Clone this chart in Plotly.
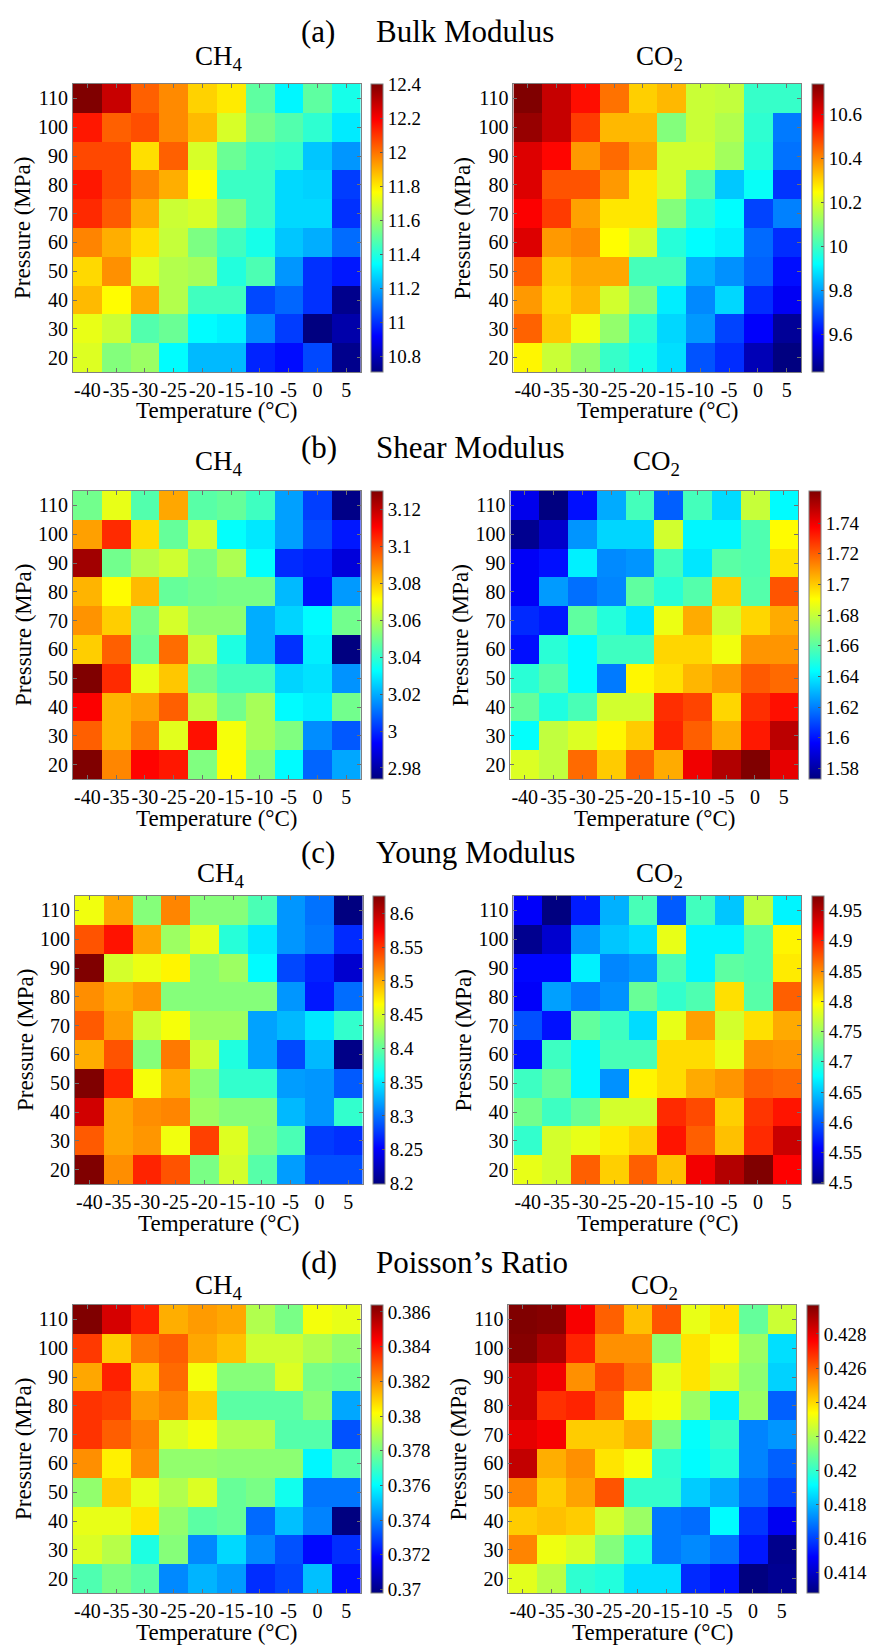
import plotly.graph_objects as go
import numpy as np

W, H = 870, 1646
FONT = "Liberation Serif"

temps = [-40, -35, -30, -25, -20, -15, -10, -5, 0, 5]
temp_labels = ["-40", "-35", "-30", "-25", "-20", "-15", "-10", "-5", "0", "5"]
pressures = [110, 100, 90, 80, 70, 60, 50, 40, 30, 20]

# ---- data (rows: pressure 110 -> 20, columns: temperature -40 -> 5) ----
bulk_ch4 = [
    [12.40, 12.28, 12.03, 11.96, 11.84, 11.80, 11.50, 11.33, 11.50, 11.38],
    [12.15, 12.03, 12.06, 11.96, 11.88, 11.70, 11.54, 11.48, 11.42, 11.31],
    [12.07, 12.07, 11.82, 12.03, 11.70, 11.52, 11.45, 11.43, 11.25, 11.17],
    [12.15, 12.07, 11.97, 11.90, 11.77, 11.44, 11.44, 11.28, 11.27, 11.02],
    [12.12, 12.04, 11.90, 11.68, 11.70, 11.56, 11.44, 11.28, 11.28, 11.00],
    [11.97, 11.90, 11.82, 11.67, 11.55, 11.45, 11.38, 11.25, 11.21, 11.10],
    [11.83, 11.95, 11.71, 11.64, 11.62, 11.40, 11.47, 11.17, 11.00, 10.96],
    [11.88, 11.77, 11.91, 11.64, 11.45, 11.45, 11.04, 11.09, 11.00, 10.73],
    [11.73, 11.68, 11.48, 11.52, 11.34, 11.32, 11.15, 11.02, 10.71, 10.78],
    [11.71, 11.56, 11.60, 11.34, 11.23, 11.23, 10.98, 10.94, 11.04, 10.73],
]
bulk_co2 = [
    [10.74, 10.65, 10.56, 10.43, 10.31, 10.34, 10.18, 10.17, 9.99, 9.99],
    [10.71, 10.65, 10.50, 10.34, 10.34, 10.09, 10.18, 10.15, 9.98, 9.75],
    [10.62, 10.57, 10.38, 10.44, 10.37, 10.19, 10.19, 10.13, 9.97, 9.74],
    [10.62, 10.47, 10.47, 10.38, 10.28, 10.19, 10.03, 9.85, 9.93, 9.66],
    [10.58, 10.50, 10.37, 10.28, 10.28, 10.09, 9.97, 9.92, 9.68, 9.76],
    [10.62, 10.38, 10.40, 10.25, 10.19, 9.97, 9.92, 9.90, 9.73, 9.65],
    [10.46, 10.32, 10.36, 10.36, 10.01, 10.01, 9.82, 9.78, 9.72, 9.61],
    [10.38, 10.30, 10.34, 10.19, 10.09, 9.90, 9.77, 9.87, 9.65, 9.58],
    [10.45, 10.32, 10.23, 10.11, 9.98, 9.87, 9.79, 9.68, 9.59, 9.46],
    [10.26, 10.18, 10.11, 9.99, 9.95, 9.88, 9.70, 9.65, 9.50, 9.43],
]
shear_ch4 = [
    [3.050, 3.068, 3.045, 3.085, 3.046, 3.048, 3.042, 3.018, 3.003, 2.975],
    [3.086, 3.104, 3.077, 3.048, 3.064, 3.033, 3.029, 3.018, 3.005, 2.997],
    [3.125, 3.050, 3.060, 3.064, 3.051, 3.059, 3.033, 3.000, 2.998, 2.988],
    [3.083, 3.072, 3.082, 3.048, 3.050, 3.051, 3.051, 3.022, 2.996, 3.017],
    [3.088, 3.079, 3.051, 3.065, 3.054, 3.054, 3.020, 3.026, 3.032, 3.050],
    [3.079, 3.096, 3.049, 3.094, 3.063, 3.037, 3.020, 3.001, 3.030, 2.974],
    [3.130, 3.104, 3.068, 3.080, 3.050, 3.043, 3.043, 3.026, 3.028, 3.016],
    [3.111, 3.083, 3.086, 3.096, 3.062, 3.050, 3.058, 3.032, 3.030, 3.050],
    [3.096, 3.083, 3.092, 3.067, 3.108, 3.070, 3.058, 3.052, 3.015, 3.007],
    [3.130, 3.090, 3.110, 3.107, 3.052, 3.072, 3.053, 3.032, 3.009, 3.019],
]
shear_co2 = [
    [1.593, 1.573, 1.599, 1.628, 1.656, 1.614, 1.656, 1.637, 1.680, 1.643],
    [1.576, 1.587, 1.624, 1.636, 1.636, 1.682, 1.642, 1.642, 1.658, 1.691],
    [1.595, 1.599, 1.641, 1.622, 1.624, 1.656, 1.639, 1.660, 1.658, 1.696],
    [1.595, 1.625, 1.617, 1.621, 1.661, 1.651, 1.659, 1.700, 1.659, 1.722],
    [1.604, 1.601, 1.661, 1.650, 1.639, 1.687, 1.706, 1.682, 1.698, 1.706],
    [1.599, 1.651, 1.643, 1.655, 1.655, 1.698, 1.698, 1.688, 1.710, 1.710],
    [1.651, 1.659, 1.643, 1.619, 1.692, 1.696, 1.704, 1.709, 1.721, 1.718],
    [1.662, 1.649, 1.657, 1.682, 1.682, 1.729, 1.725, 1.698, 1.729, 1.735],
    [1.644, 1.679, 1.684, 1.692, 1.700, 1.731, 1.720, 1.706, 1.733, 1.750],
    [1.684, 1.679, 1.718, 1.700, 1.720, 1.706, 1.740, 1.752, 1.761, 1.742],
]
young_ch4 = [
    [8.460, 8.503, 8.415, 8.517, 8.415, 8.415, 8.390, 8.315, 8.300, 8.199],
    [8.538, 8.565, 8.503, 8.425, 8.455, 8.375, 8.350, 8.315, 8.303, 8.270],
    [8.626, 8.448, 8.458, 8.470, 8.415, 8.425, 8.358, 8.282, 8.266, 8.232],
    [8.513, 8.500, 8.510, 8.415, 8.415, 8.415, 8.415, 8.315, 8.262, 8.298],
    [8.535, 8.507, 8.445, 8.462, 8.425, 8.425, 8.320, 8.330, 8.350, 8.380],
    [8.500, 8.538, 8.415, 8.522, 8.445, 8.372, 8.320, 8.283, 8.330, 8.202],
    [8.626, 8.558, 8.462, 8.500, 8.418, 8.380, 8.380, 8.318, 8.315, 8.290],
    [8.592, 8.503, 8.513, 8.517, 8.425, 8.415, 8.415, 8.330, 8.315, 8.380],
    [8.535, 8.503, 8.510, 8.460, 8.546, 8.452, 8.412, 8.390, 8.277, 8.272],
    [8.626, 8.513, 8.558, 8.538, 8.410, 8.448, 8.395, 8.318, 8.285, 8.285],
]
young_co2 = [
    [4.555, 4.498, 4.570, 4.640, 4.710, 4.600, 4.707, 4.650, 4.765, 4.672],
    [4.505, 4.535, 4.628, 4.650, 4.660, 4.785, 4.672, 4.672, 4.715, 4.800],
    [4.560, 4.560, 4.670, 4.620, 4.628, 4.713, 4.672, 4.720, 4.715, 4.805],
    [4.555, 4.632, 4.615, 4.625, 4.725, 4.700, 4.713, 4.810, 4.717, 4.870],
    [4.595, 4.565, 4.722, 4.705, 4.660, 4.785, 4.840, 4.775, 4.810, 4.835],
    [4.565, 4.705, 4.673, 4.710, 4.710, 4.812, 4.812, 4.785, 4.848, 4.845],
    [4.705, 4.725, 4.673, 4.625, 4.800, 4.812, 4.835, 4.845, 4.870, 4.866],
    [4.730, 4.705, 4.725, 4.775, 4.775, 4.895, 4.880, 4.818, 4.890, 4.905],
    [4.700, 4.775, 4.785, 4.805, 4.818, 4.905, 4.870, 4.825, 4.895, 4.940],
    [4.785, 4.775, 4.870, 4.818, 4.870, 4.825, 4.920, 4.950, 4.974, 4.915],
]
poisson_ch4 = [
    [0.3864, 0.3850, 0.3838, 0.3815, 0.3818, 0.3816, 0.3789, 0.3780, 0.3800, 0.3798],
    [0.3834, 0.3810, 0.3824, 0.3828, 0.3816, 0.3812, 0.3794, 0.3794, 0.3789, 0.3784],
    [0.3816, 0.3838, 0.3810, 0.3826, 0.3800, 0.3782, 0.3782, 0.3796, 0.3780, 0.3778],
    [0.3835, 0.3833, 0.3818, 0.3822, 0.3810, 0.3775, 0.3775, 0.3775, 0.3783, 0.3746],
    [0.3835, 0.3828, 0.3822, 0.3796, 0.3800, 0.3789, 0.3789, 0.3774, 0.3774, 0.3732],
    [0.3820, 0.3804, 0.3820, 0.3784, 0.3784, 0.3783, 0.3783, 0.3783, 0.3759, 0.3774],
    [0.3784, 0.3810, 0.3798, 0.3789, 0.3796, 0.3777, 0.3780, 0.3763, 0.3738, 0.3738],
    [0.3798, 0.3798, 0.3806, 0.3784, 0.3775, 0.3777, 0.3736, 0.3750, 0.3740, 0.3698],
    [0.3796, 0.3790, 0.3765, 0.3782, 0.3741, 0.3754, 0.3741, 0.3732, 0.3720, 0.3726],
    [0.3773, 0.3780, 0.3775, 0.3741, 0.3748, 0.3744, 0.3726, 0.3730, 0.3750, 0.3721],
]
poisson_co2 = [
    [0.4297, 0.4296, 0.4277, 0.4260, 0.4244, 0.4262, 0.4230, 0.4238, 0.4208, 0.4225],
    [0.4296, 0.4290, 0.4270, 0.4252, 0.4252, 0.4215, 0.4238, 0.4232, 0.4217, 0.4186],
    [0.4285, 0.4278, 0.4252, 0.4264, 0.4256, 0.4229, 0.4238, 0.4227, 0.4215, 0.4184],
    [0.4285, 0.4268, 0.4270, 0.4260, 0.4236, 0.4232, 0.4217, 0.4189, 0.4217, 0.4165],
    [0.4280, 0.4277, 0.4242, 0.4242, 0.4247, 0.4212, 0.4192, 0.4200, 0.4171, 0.4174],
    [0.4286, 0.4247, 0.4252, 0.4238, 0.4232, 0.4199, 0.4191, 0.4197, 0.4171, 0.4165],
    [0.4254, 0.4242, 0.4249, 0.4262, 0.4200, 0.4200, 0.4183, 0.4177, 0.4167, 0.4160],
    [0.4242, 0.4244, 0.4242, 0.4226, 0.4217, 0.4169, 0.4167, 0.4191, 0.4158, 0.4147],
    [0.4254, 0.4231, 0.4227, 0.4213, 0.4197, 0.4169, 0.4172, 0.4168, 0.4153, 0.4130],
    [0.4229, 0.4222, 0.4199, 0.4197, 0.4186, 0.4186, 0.4156, 0.4152, 0.4128, 0.4131],
]

# colorbar tick labels
cb_bulk_ch4 = ["10.8", "11", "11.2", "11.4", "11.6", "11.8", "12", "12.2", "12.4"]
cb_bulk_co2 = ["9.6", "9.8", "10", "10.2", "10.4", "10.6"]
cb_shear_ch4 = ["2.98", "3", "3.02", "3.04", "3.06", "3.08", "3.1", "3.12"]
cb_shear_co2 = ["1.58", "1.6", "1.62", "1.64", "1.66", "1.68", "1.7", "1.72", "1.74"]
cb_young_ch4 = ["8.2", "8.25", "8.3", "8.35", "8.4", "8.45", "8.5", "8.55", "8.6"]
cb_young_co2 = ["4.5", "4.55", "4.6", "4.65", "4.7", "4.75", "4.8", "4.85", "4.9", "4.95"]
cb_poisson_ch4 = ["0.37", "0.372", "0.374", "0.376", "0.378", "0.38", "0.382", "0.384", "0.386"]
cb_poisson_co2 = ["0.414", "0.416", "0.418", "0.42", "0.422", "0.424", "0.426", "0.428"]

panel_letters = ["(a)", "(b)", "(c)", "(d)"]
panel_names = ["Bulk Modulus", "Shear Modulus", "Young Modulus", "Poisson\u2019s Ratio"]
gas_labels = ["CH<sub>4</sub>", "CO<sub>2</sub>"]

panel_data = [
    (bulk_ch4, cb_bulk_ch4, bulk_co2, cb_bulk_co2),
    (shear_ch4, cb_shear_ch4, shear_co2, cb_shear_co2),
    (young_ch4, cb_young_ch4, young_co2, cb_young_co2),
    (poisson_ch4, cb_poisson_ch4, poisson_co2, cb_poisson_co2),
]

# ---- geometry (pixels) ----
rows_top = [84, 491, 896, 1305]
SIZE = 288
left_x = [73, 73, 75, 73]
right_x = [514, 511, 514, 509]
title_y = [31, 447, 852, 1262]
gas_y = [58, 463, 875, 1287]

jet = [[0.0, "rgb(0,0,128)"], [0.125, "rgb(0,0,255)"], [0.375, "rgb(0,255,255)"],
       [0.625, "rgb(255,255,0)"], [0.875, "rgb(255,0,0)"], [1.0, "rgb(128,0,0)"]]

fig = go.Figure()
annotations = []
layout_axes = {}

def px(x):
    return x / W

def py(y):
    return 1 - y / H

n = 0
for r in range(4):
    top = rows_top[r]
    bottom = top + SIZE
    for c in range(2):
        n += 1
        z = panel_data[r][2 * c]
        cbt = panel_data[r][2 * c + 1]
        x0 = left_x[r] if c == 0 else right_x[r]
        x1 = x0 + SIZE
        zarr = np.array(z)
        xa = "x" if n == 1 else f"x{n}"
        ya = "y" if n == 1 else f"y{n}"
        fig.add_trace(go.Heatmap(
            z=z, x=temps, y=pressures, xaxis=xa, yaxis=ya,
            colorscale=jet, zmin=float(zarr.min()), zmax=float(zarr.max()),
            colorbar=dict(
                x=px(x1 + 10), xanchor="left", xpad=0, ypad=0,
                y=py((top + bottom) / 2), yanchor="middle",
                len=SIZE, lenmode="pixels", thickness=12, thicknessmode="pixels",
                outlinewidth=1, outlinecolor="#808080",
                tickvals=[float(t) for t in cbt], ticktext=cbt,
                ticks="inside", ticklen=3, tickcolor="#555555",
                tickfont=dict(family=FONT, size=19, color="black"),
            ),
        ))
        axkey = "" if n == 1 else str(n)
        layout_axes["xaxis" + axkey] = dict(
            domain=[px(x0), px(x1)], anchor=ya, range=[-42.5, 7.5],
            tickvals=temps, ticktext=temp_labels, ticks="inside", ticklen=4,
            tickcolor="#707070", showline=True, linecolor="#808080", linewidth=1,
            mirror="ticks", showgrid=False, zeroline=False,
            tickfont=dict(family=FONT, size=20, color="black"), fixedrange=True,
        )
        layout_axes["yaxis" + axkey] = dict(
            domain=[py(bottom), py(top)], anchor=xa, range=[15, 115],
            tickvals=pressures, ticks="inside", ticklen=4,
            tickcolor="#707070", showline=True, linecolor="#808080", linewidth=1,
            mirror="ticks", showgrid=False, zeroline=False,
            tickfont=dict(family=FONT, size=20, color="black"), fixedrange=True,
        )
        # axis titles
        annotations.append(dict(
            text="Temperature (\u00b0C)", x=px((x0 + x1) / 2), y=py(bottom + 39),
            xref="paper", yref="paper", xanchor="center", yanchor="middle",
            showarrow=False, font=dict(family=FONT, size=23, color="black")))
        annotations.append(dict(
            text="Pressure (MPa)", x=px(x0 - 50), y=py((top + bottom) / 2),
            xref="paper", yref="paper", xanchor="center", yanchor="middle",
            textangle=-90, showarrow=False, font=dict(family=FONT, size=23, color="black")))
        annotations.append(dict(
            text=gas_labels[c], x=px((x0 + x1) / 2 + 2), y=py(gas_y[r]),
            xref="paper", yref="paper", xanchor="center", yanchor="middle",
            showarrow=False, font=dict(family=FONT, size=27, color="black")))
    annotations.append(dict(
        text=panel_letters[r], x=px(299), y=py(title_y[r]),
        xref="paper", yref="paper", xanchor="left", yanchor="middle",
        showarrow=False, font=dict(family=FONT, size=31, color="black")))
    annotations.append(dict(
        text=panel_names[r], x=px(374), y=py(title_y[r]),
        xref="paper", yref="paper", xanchor="left", yanchor="middle",
        showarrow=False, font=dict(family=FONT, size=31, color="black")))

fig.update_layout(
    width=W, height=H, margin=dict(l=0, r=0, t=0, b=0),
    paper_bgcolor="white", plot_bgcolor="white",
    annotations=annotations, showlegend=False,
    font=dict(family=FONT, color="black"),
    **layout_axes,
)

fig.write_html(
    "out.html",
    config={"displayModeBar": False, "staticPlot": True},
    post_script="document.body.style.margin='0';document.body.style.overflow='hidden';",
)
